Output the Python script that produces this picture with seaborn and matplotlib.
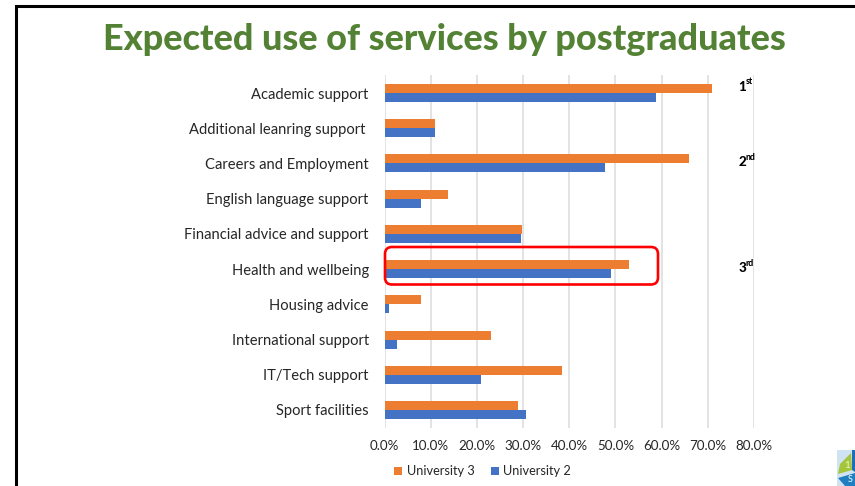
import matplotlib
matplotlib.use("Agg")
import matplotlib.pyplot as plt
from matplotlib.patches import FancyBboxPatch, Polygon, Rectangle
from matplotlib.lines import Line2D
import pandas as pd
import seaborn as sns

services = ["Academic support", "Additional leanring support ", "Careers and Employment",
            "English language support", "Financial advice and support", "Health and wellbeing",
            "Housing advice", "International support", "IT/Tech support", "Sport facilities"]
university_3 = [71.0, 11.0, 66.0, 13.7, 29.7, 53.0, 8.0, 23.0, 38.5, 29.0]
university_2 = [58.8, 11.0, 47.7, 7.8, 29.5, 49.0, 1.0, 2.8, 21.0, 30.7]
x_ticks = [0, 10, 20, 30, 40, 50, 60, 70, 80]
rank_numbers = ["1", "2", "3"]
rank_suffixes = ["st", "nd", "rd"]

W, H = 855, 486
sns.set_theme(style="white")
plt.rcParams["font.family"] = ["Lato", "DejaVu Sans"]

ORANGE, BLUE, GREEN = "#ED7D31", "#4472C4", "#548235"
TEXT = "#262626"

df = pd.DataFrame({
    "service": services * 2,
    "share": university_3 + university_2,
    "university": ["University 3"] * len(services) + ["University 2"] * len(services),
})

fig = plt.figure(figsize=(W / 100, H / 100), dpi=100, facecolor="white")
left, right, top, bottom = 384.5, 754, 75.4, 427.6
ax = fig.add_axes([left / W, 1 - bottom / H, (right - left) / W, (bottom - top) / H])

sns.barplot(data=df, y="service", x="share", hue="university", order=services,
            hue_order=["University 3", "University 2"],
            palette={"University 3": ORANGE, "University 2": BLUE},
            width=0.51, gap=0, dodge=True, saturation=1, legend=False, ax=ax,
            linewidth=0, edgecolor="none", zorder=3)

ax.set_xlim(0, 80)
ax.set_ylim(len(services) - 0.5, -0.5)
ax.set_xlabel("")
ax.set_ylabel("")
ax.set_xticks(x_ticks)
ax.set_xticklabels([f"{v:.1f}%" for v in x_ticks], fontsize=9.6, color=TEXT)
ax.tick_params(axis="x", length=0, pad=9)
ax.tick_params(axis="y", length=0, pad=11.3, labelsize=10.65, labelcolor=TEXT)
ax.grid(axis="x", color="#E0E0E0", linewidth=1.3, zorder=0)
ax.set_axisbelow(True)
for s in ax.spines.values():
    s.set_visible(False)

# Full-figure overlay addressed in pixels, y pointing down
overlay = fig.add_axes([0, 0, 1, 1], facecolor="none")
overlay.set_xlim(0, W)
overlay.set_ylim(H, 0)
overlay.axis("off")

# Slide title and frame
overlay.text(444.5, 39, "Expected use of services by postgraduates", color=GREEN,
             fontsize=25.9, fontweight="black", ha="center", va="center")
overlay.add_line(Line2D([15.5, 15.5, W], [H, 6, 6], color="black", linewidth=2.2,
                        solid_joinstyle="miter"))

# Rank annotations beside the top three services
for num, suffix, y_px in zip(rank_numbers, rank_suffixes, [87, 162, 268]):
    overlay.text(738.5, y_px, num, fontsize=9.6, fontweight="black", color="black",
                 ha="left", va="center")
    overlay.text(745.5, y_px - 5, suffix, fontsize=6.2, fontweight="black", color="black",
                 ha="left", va="center")

# Highlight around the third-ranked service
overlay.add_patch(FancyBboxPatch((385, 247), 273, 37.5, boxstyle="round,pad=0,rounding_size=7",
                                 fill=False, edgecolor="#FF0000", linewidth=1.9, zorder=5))

# Legend
for x0, colour, label in [(394, ORANGE, "University 3"), (490.5, BLUE, "University 2")]:
    overlay.add_patch(Rectangle((x0, 467), 8, 8, facecolor=colour, edgecolor="none"))
    overlay.text(x0 + 12.5, 471, label, fontsize=9.2, color=TEXT, ha="left", va="center")

# Logo clipped at the slide corner
overlay.add_patch(Rectangle((837, 450), 18, 36, facecolor="#CFE3F3", edgecolor="none"))
overlay.add_patch(Polygon([(838, 474), (840, 464), (851, 453), (852, 470)],
                          facecolor="#A5C63B", edgecolor="none"))
overlay.add_patch(Polygon([(852, 450), (855, 450), (855, 472), (852, 470)],
                          facecolor="#1F6FB5", edgecolor="none"))
overlay.add_patch(Polygon([(838, 478), (855, 473), (855, 486), (845, 486)],
                          facecolor="#1F7FC1", edgecolor="none"))
overlay.text(847, 465, "1", fontsize=7, color="#F4F4D0", ha="center", va="center")
overlay.text(850, 479.5, "S", fontsize=6.5, color="white", ha="center", va="center")

fig.savefig("out.png", dpi=100, facecolor="white")
